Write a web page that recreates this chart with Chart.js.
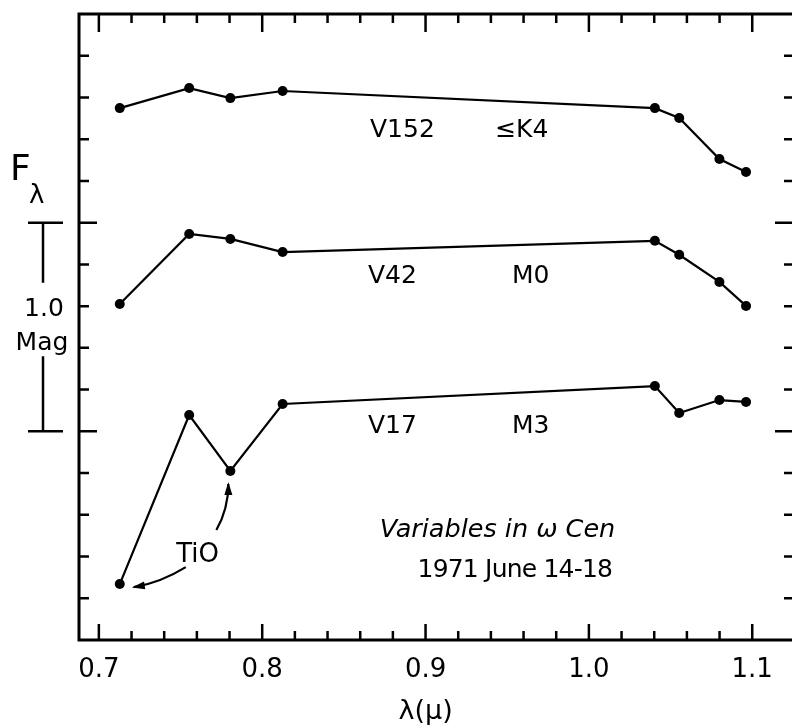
<!DOCTYPE html>
<html>
<head>
<meta charset="utf-8">
<style>
  html, body { margin: 0; padding: 0; background: #fff; }
  #wrap { width: 792px; height: 725px; }
</style>
</head>
<body>
<div id="wrap"><canvas id="chart" width="792" height="725"></canvas></div>
<script src="https://cdn.jsdelivr.net/npm/chart.js@4/dist/chart.umd.min.js"></script>
<script>
// longitudes de onda de los filtros (micras)
const wavelengths = [0.7128, 0.7553, 0.7805, 0.8125, 1.0404, 1.0553, 1.0799, 1.0962];

// F_lambda en magnitudes (curvas desplazadas), una por variable
const v152 = [2.549, 2.645, 2.597, 2.631, 2.549, 2.502, 2.305, 2.243];
const v42  = [1.610, 1.946, 1.922, 1.859, 1.913, 1.846, 1.716, 1.601];
const v17  = [0.268, 1.078, 0.810, 1.131, 1.217, 1.088, 1.150, 1.141];

// marcas de los ejes
const xTicks = [0.70, 0.72, 0.74, 0.76, 0.78, 0.80, 0.82, 0.84, 0.86, 0.88, 0.90,
                0.92, 0.94, 0.96, 0.98, 1.00, 1.02, 1.04, 1.06, 1.08, 1.10];
const xMajor = [0.7, 0.8, 0.9, 1.0, 1.1];
const xLabels = ['0.7', '0.8', '0.9', '1.0', '1.1'];
const yTicks = [0.2, 0.4, 0.6, 0.8, 1.0, 1.2, 1.4, 1.6, 1.8, 2.0, 2.2, 2.4, 2.6, 2.8];
const yMajor = [1.0, 2.0];

// textos dentro del gráfico (posición en unidades de datos: lambda, mag)
const notes = [
    { text: 'V152', x: 0.8660, y: 2.411, size: 25 },
    { text: '\u2264K4', x: 0.9426, y: 2.411, size: 25 },
    { text: 'V42', x: 0.8647, y: 1.711, size: 25 },
    { text: 'M0', x: 0.9529, y: 1.711, size: 25 },
    { text: 'V17', x: 0.8647, y: 0.992, size: 25 },
    { text: 'M3', x: 0.9529, y: 0.992, size: 25 },
    { text: 'TiO', x: 0.7474, y: 0.374, size: 26 },
    { text: 'Variables in \u03c9 Cen', x: 0.8720, y: 0.494, size: 25.5, italic: true },
    { text: '1971 June 14-18', x: 0.8951, y: 0.302, size: 25, spacing: '-0.8px' }
];

const FONT = '"DejaVu Sans", sans-serif';

const toPoints = (vals) => vals.map((v, i) => ({ x: wavelengths[i], y: v }));

const serie = (label, vals) => ({
    label: label,
    data: toPoints(vals),
    borderColor: '#000',
    backgroundColor: '#000',
    borderWidth: 2.2,
    pointRadius: 5,
    pointBorderWidth: 0,
    pointBackgroundColor: '#000',
    tension: 0,
    clip: false
});

// flecha curva con punta rellena
function arrow(ctx, sx, sy, cx, cy, ex, ey) {
    ctx.beginPath();
    ctx.moveTo(sx, sy);
    ctx.quadraticCurveTo(cx, cy, ex, ey);
    ctx.stroke();
    const ang = Math.atan2(ey - cy, ex - cx);
    const len = 11, half = 4;
    ctx.beginPath();
    ctx.moveTo(ex + Math.cos(ang) * 2, ey + Math.sin(ang) * 2);
    ctx.lineTo(ex - Math.cos(ang) * len - Math.sin(ang) * half, ey - Math.sin(ang) * len + Math.cos(ang) * half);
    ctx.lineTo(ex - Math.cos(ang) * len + Math.sin(ang) * half, ey - Math.sin(ang) * len - Math.cos(ang) * half);
    ctx.closePath();
    ctx.fill();
}

const frame = {
    id: 'frame',
    afterDatasetsDraw(chart) {
        const { ctx, chartArea: a, scales: { x, y } } = chart;
        const rightAxis = a.right + 8;
        ctx.save();
        ctx.strokeStyle = '#000';
        ctx.fillStyle = '#000';

        // marco
        ctx.lineWidth = 3;
        ctx.beginPath();
        ctx.moveTo(rightAxis, a.top);
        ctx.lineTo(a.left, a.top);
        ctx.lineTo(a.left, a.bottom);
        ctx.lineTo(rightAxis, a.bottom);
        ctx.stroke();

        // marcas hacia dentro
        ctx.lineWidth = 2.5;
        ctx.beginPath();
        xTicks.forEach(v => {
            const px = x.getPixelForValue(v);
            const major = xMajor.some(m => Math.abs(m - v) < 1e-6);
            ctx.moveTo(px, a.top);
            ctx.lineTo(px, a.top + (major ? 18 : 9));
            ctx.moveTo(px, a.bottom);
            ctx.lineTo(px, a.bottom - (major ? 16 : 9));
        });
        yTicks.forEach(v => {
            const py = y.getPixelForValue(v);
            const major = yMajor.some(m => Math.abs(m - v) < 1e-6);
            ctx.moveTo(a.left, py);
            ctx.lineTo(a.left + (major ? 18 : 10), py);
            ctx.moveTo(rightAxis, py);
            ctx.lineTo(rightAxis - (major ? 20 : 11), py);
        });
        ctx.stroke();

        // etiquetas del eje x
        ctx.font = '26px ' + FONT;
        ctx.textAlign = 'center';
        ctx.textBaseline = 'alphabetic';
        xMajor.forEach((v, i) => {
            ctx.fillText(xLabels[i], x.getPixelForValue(v), a.bottom + 37);
        });
        ctx.font = '27px ' + FONT;
        ctx.fillText('\u03bb(\u03bc)', x.getPixelForValue(0.9), a.bottom + 79);

        // F lambda
        ctx.textAlign = 'left';
        ctx.font = '36px ' + FONT;
        ctx.fillText('F', 10, 180);
        ctx.font = '26px ' + FONT;
        ctx.fillText('\u03bb', 29, 203);

        // barra de 1.0 mag
        const top = y.getPixelForValue(2.0);
        const bot = y.getPixelForValue(1.0);
        ctx.lineWidth = 2.5;
        ctx.beginPath();
        ctx.moveTo(28, top); ctx.lineTo(63, top);
        ctx.moveTo(43, top); ctx.lineTo(43, top + 60);
        ctx.moveTo(43, bot - 75); ctx.lineTo(43, bot);
        ctx.moveTo(28, bot); ctx.lineTo(63, bot);
        ctx.stroke();
        ctx.textAlign = 'center';
        ctx.font = '25px ' + FONT;
        ctx.fillText('1.0', 44, 316);
        ctx.fillText('Mag', 42, 350);

        // textos
        ctx.textAlign = 'left';
        notes.forEach(n => {
            ctx.font = (n.italic ? 'italic ' : '') + n.size + 'px ' + FONT;
            ctx.letterSpacing = n.spacing || '0px';
            ctx.fillText(n.text, x.getPixelForValue(n.x), y.getPixelForValue(n.y));
        });
        ctx.letterSpacing = '0px';

        // flechas TiO
        const p1x = x.getPixelForValue(wavelengths[0]), p1y = y.getPixelForValue(v17[0]);
        const p3x = x.getPixelForValue(wavelengths[2]), p3y = y.getPixelForValue(v17[2]);
        ctx.lineWidth = 2.2;
        arrow(ctx, p3x - 14, p3y + 59, p3x - 2, p3y + 38, p3x - 2, p3y + 13);
        arrow(ctx, p1x + 66, p1y - 17, p1x + 40, p1y - 1, p1x + 14, p1y + 3);
        ctx.restore();
    }
};

new Chart(document.getElementById('chart'), {
    type: 'line',
    data: {
        datasets: [serie('V152', v152), serie('V42', v42), serie('V17', v17)]
    },
    options: {
        responsive: false,
        animation: false,
        layout: { padding: { left: 79, top: 14, right: 0, bottom: 85 } },
        plugins: { legend: { display: false }, tooltip: { enabled: false } },
        scales: {
            x: { type: 'linear', display: false, min: 0.68784, max: 1.12128 },
            y: { type: 'linear', display: false, min: 0, max: 3.0 }
        }
    },
    plugins: [frame]
});
</script>
</body>
</html>
